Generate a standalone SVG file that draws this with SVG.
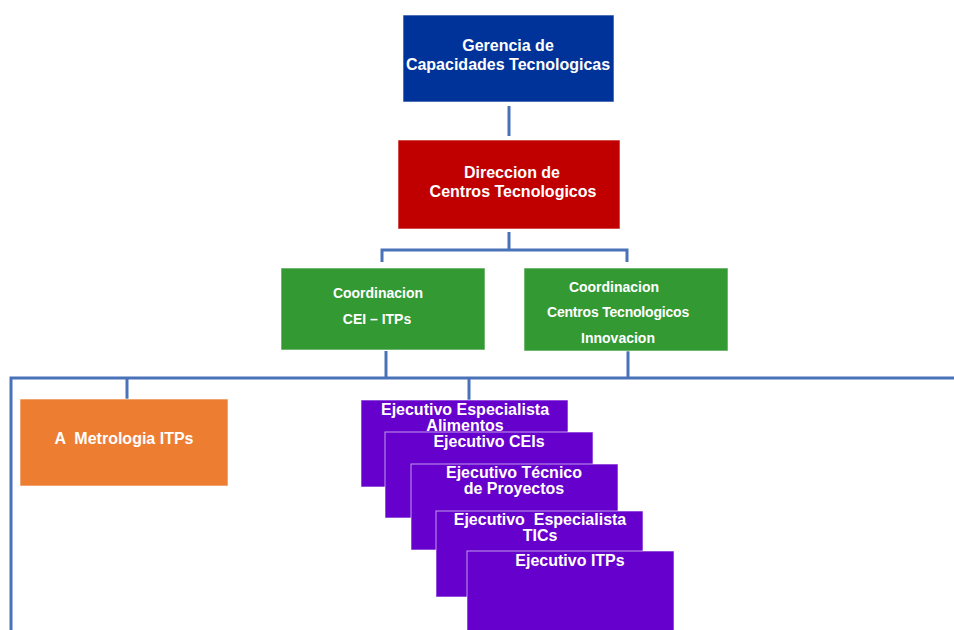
<svg xmlns="http://www.w3.org/2000/svg" width="954" height="630" viewBox="0 0 954 630">
  <style>
    .lbl { font-family: "Liberation Sans", Arial, sans-serif; font-weight: bold; font-size: 16px; fill: #ffffff; text-anchor: middle; white-space: pre; }
    .sm { font-size: 14px; }
    .box { stroke: #ffffff; stroke-opacity: 0.6; stroke-width: 1; }
    .conn { stroke: #4a72b8; stroke-width: 3; fill: none; }
  </style>
  <rect width="954" height="630" fill="#ffffff"/>

  <g id="connectors">
    <line class="conn" x1="509" y1="106" x2="509" y2="136"/>
    <polyline class="conn" points="509,232 509,250"/>
    <polyline class="conn" points="382,262 382,250 627,250 627,262"/>
    <line class="conn" x1="386" y1="351" x2="386" y2="378"/>
    <line class="conn" x1="628" y1="351" x2="628" y2="378"/>
    <polyline class="conn" points="11,630 11,378 954,378"/>
    <line class="conn" x1="127" y1="378" x2="127" y2="399"/>
    <line class="conn" x1="469" y1="378" x2="469" y2="400"/>
  </g>

  <g id="gerencia">
    <rect class="box" x="403" y="15" width="211" height="87" fill="#003399"/>
    <text class="lbl" x="508" y="51">Gerencia de</text>
    <text class="lbl" x="508" y="70">Capacidades Tecnologicas</text>
  </g>

  <g id="direccion">
    <rect class="box" x="398" y="140" width="222" height="89" fill="#c00000"/>
    <text class="lbl" x="512" y="178">Direccion de</text>
    <text class="lbl" x="513" y="197">Centros Tecnologicos</text>
  </g>

  <g id="coord-cei">
    <rect class="box" x="281" y="268" width="204" height="82" fill="#339933"/>
    <text class="lbl sm" x="378" y="298">Coordinacion</text>
    <text class="lbl sm" x="377" y="324">CEI – ITPs</text>
  </g>

  <g id="coord-centros">
    <rect class="box" x="524" y="268" width="204" height="83" fill="#339933"/>
    <text class="lbl sm" x="614" y="292">Coordinacion</text>
    <text class="lbl sm" x="618" y="317" letter-spacing="-0.2">Centros Tecnologicos</text>
    <text class="lbl sm" x="618" y="343">Innovacion</text>
  </g>

  <g id="metrologia">
    <rect class="box" x="20" y="399" width="208" height="87" fill="#ed7d31"/>
    <text class="lbl" x="124" y="444">A  Metrologia ITPs</text>
  </g>

  <g id="ejec-alimentos">
    <rect class="box" x="361" y="400" width="207" height="87" fill="#6600cc"/>
    <text class="lbl" x="465" y="415">Ejecutivo Especialista</text>
    <text class="lbl" x="465" y="431">Alimentos</text>
  </g>

  <g id="ejec-ceis">
    <rect class="box" x="385" y="432" width="208" height="86" fill="#6600cc"/>
    <text class="lbl" x="489" y="447">Ejecutivo CEIs</text>
  </g>

  <g id="ejec-tecnico">
    <rect class="box" x="411" y="464" width="207" height="86" fill="#6600cc"/>
    <text class="lbl" x="514" y="478">Ejecutivo Técnico</text>
    <text class="lbl" x="514" y="494">de Proyectos</text>
  </g>

  <g id="ejec-tics">
    <rect class="box" x="436" y="511" width="207" height="86" fill="#6600cc"/>
    <text class="lbl" x="540" y="525">Ejecutivo  Especialista</text>
    <text class="lbl" x="540" y="541">TICs</text>
  </g>

  <g id="ejec-itps">
    <rect class="box" x="467" y="551" width="207" height="86" fill="#6600cc"/>
    <text class="lbl" x="570" y="566">Ejecutivo ITPs</text>
  </g>
</svg>
